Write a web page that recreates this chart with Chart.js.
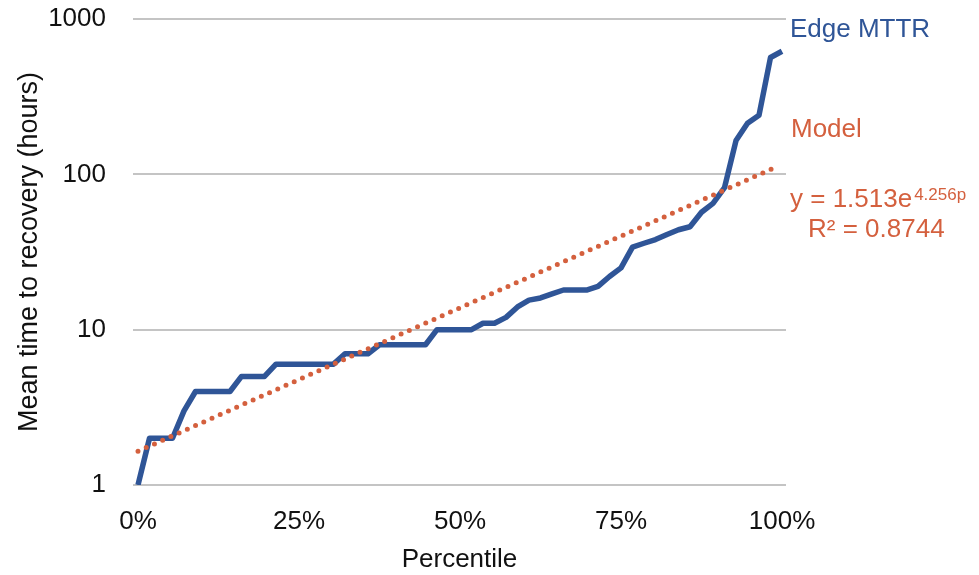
<!DOCTYPE html>
<html>
<head>
<meta charset="utf-8">
<script src="https://cdn.jsdelivr.net/npm/chart.js@4"></script>
<style>
    html, body { margin: 0; padding: 0; background: #fff; }
    canvas { display: block; }
</style>
</head>
<body>
<canvas id="mttrChart" width="979" height="575"></canvas>
<script>
// MTTR per edge, sorted (hours)
const mttrHours = [1, 2, 2, 2, 3, 4, 4, 4, 4, 5, 5, 5, 6, 6, 6, 6, 6, 6, 7, 7, 7,
    8, 8, 8, 8, 8, 10, 10, 10, 10, 11, 11, 12, 14, 15.5, 16, 17, 18, 18, 18, 19,
    22, 25, 34, 36, 38, 41, 44, 46, 57, 65, 82, 165, 213, 240, 565, 620];

// trend line end points (exponential fit, straight on a log axis)
const modelPercentiles = [0, 0.99];
const modelHours = [1.65, 111];

const yTickValues = [1, 10, 100, 1000];
const xTickValues = [0, 0.25, 0.5, 0.75, 1];

const BLUE = '#2F5597';
const ORANGE = '#D4603E';
const FONT = "'Liberation Sans', Arial, sans-serif";

document.addEventListener('DOMContentLoaded', () => {
    renderChart();
});

// labels to the right of the plot (series names + fit equation)
const sideLabels = {
    id: 'sideLabels',
    afterDraw(chart) {
        const ctx = chart.ctx;
        ctx.save();
        ctx.textBaseline = 'alphabetic';
        ctx.textAlign = 'left';
        ctx.font = '26px ' + FONT;

        ctx.fillStyle = BLUE;
        ctx.fillText('Edge MTTR', 790, 36.5);

        ctx.fillStyle = ORANGE;
        ctx.fillText('Model', 791, 136.5);

        const eq = 'y = 1.513e';
        ctx.fillText(eq, 790, 207);
        const w = ctx.measureText(eq).width;
        ctx.font = '17px ' + FONT;
        ctx.fillText('4.256p', 790 + w + 2, 199.5);

        ctx.font = '26px ' + FONT;
        ctx.fillText('R\u00B2 = 0.8744', 808, 237);
        ctx.restore();
    }
};

function renderChart() {
    const ctx = document.getElementById('mttrChart').getContext('2d');
    const n = mttrHours.length;
    const mttrPoints = mttrHours.map((v, i) => ({ x: i / (n - 1), y: v }));
    const modelPoints = modelPercentiles.map((p, i) => ({ x: p, y: modelHours[i] }));

    new Chart(ctx, {
        type: 'line',
        data: {
            datasets: [{
                label: 'Edge MTTR',
                data: mttrPoints,
                borderColor: BLUE,
                borderWidth: 5.5,
                borderJoinStyle: 'round',
                pointRadius: 0,
                tension: 0,
                order: 2
            }, {
                label: 'Model',
                data: modelPoints,
                borderColor: ORANGE,
                borderWidth: 5,
                borderDash: [0, 9],
                borderCapStyle: 'round',
                pointRadius: 0,
                order: 1
            }]
        },
        options: {
            responsive: false,
            animation: false,
            layout: { padding: { top: 19, right: 193, left: 0, bottom: 0 } },
            plugins: {
                legend: { display: false },
                tooltip: { enabled: false }
            },
            scales: {
                x: {
                    type: 'linear',
                    min: -5 / 644,
                    max: 1 + 4 / 644,
                    afterBuildTicks: (scale) => {
                        scale.ticks = xTickValues.map(v => ({ value: v }));
                    },
                    afterFit: (scale) => { scale.height = 90; },
                    grid: { display: false },
                    border: { display: false },
                    ticks: {
                        color: '#111',
                        font: { family: FONT, size: 26 },
                        padding: 13,
                        maxRotation: 0,
                        callback: (v) => Math.round(v * 100) + '%'
                    },
                    title: {
                        display: true,
                        text: 'Percentile',
                        color: '#111',
                        font: { family: FONT, size: 26 },
                        padding: { top: 0, bottom: 0 }
                    }
                },
                y: {
                    type: 'logarithmic',
                    min: 1,
                    max: 1000,
                    afterBuildTicks: (scale) => {
                        scale.ticks = yTickValues.map(v => ({ value: v }));
                    },
                    // tick padding would otherwise push the plot top down
                    afterFit: (scale) => {
                        scale.width = 133;
                        scale.paddingTop = 0;
                        scale.paddingBottom = 0;
                    },
                    grid: { color: '#C4C4C4', lineWidth: 2, drawTicks: false },
                    border: { display: false },
                    ticks: {
                        color: '#111',
                        font: { family: FONT, size: 26 },
                        padding: 27,
                        callback: (v) => String(v)
                    },
                    title: {
                        display: true,
                        text: 'Mean time to recovery (hours)',
                        color: '#111',
                        font: { family: FONT, size: 27 },
                        padding: { top: 13, bottom: 0 }
                    }
                }
            }
        },
        plugins: [sideLabels]
    });
}
</script>
</body>
</html>
